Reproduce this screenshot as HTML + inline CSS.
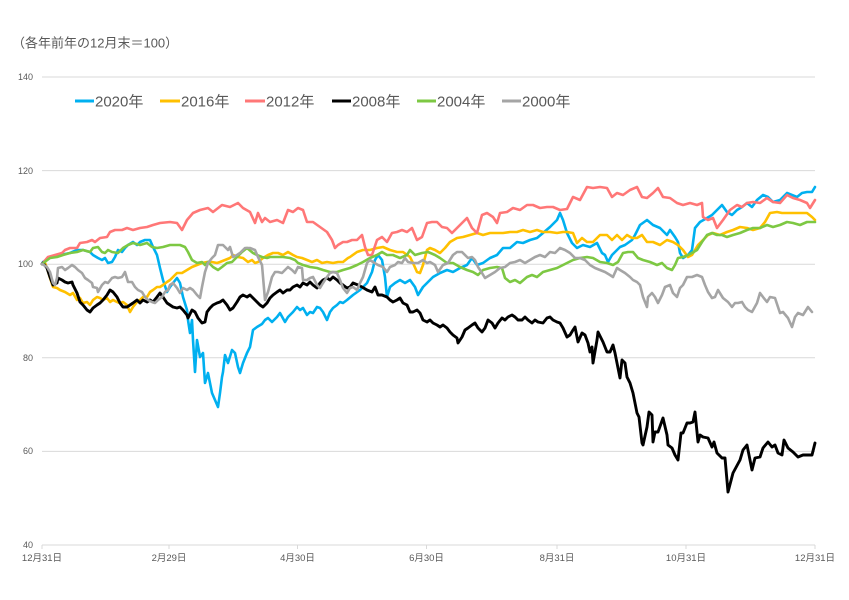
<!DOCTYPE html>
<html><head><meta charset="utf-8"><style>
html,body{margin:0;padding:0;background:#fff;}
svg{display:block;}
text{font-family:"Liberation Sans","Noto Sans CJK JP",sans-serif;fill:#595959;}
</style></head><body>
<svg width="849" height="600" viewBox="0 0 849 600" xmlns="http://www.w3.org/2000/svg">
<rect width="849" height="600" fill="#fff"/>
<text x="12" y="47.5" font-size="13">（各年前年の12月末＝100）</text>
<g stroke="#D9D9D9" stroke-width="1">
<line x1="42" y1="77" x2="815" y2="77"/>
<line x1="42" y1="170.6" x2="815" y2="170.6"/>
<line x1="42" y1="264.2" x2="815" y2="264.2"/>
<line x1="42" y1="357.8" x2="815" y2="357.8"/>
<line x1="42" y1="451.4" x2="815" y2="451.4"/>
<line x1="42" y1="545" x2="815" y2="545"/>
<line x1="42" y1="545" x2="42" y2="549"/>
<line x1="169" y1="545" x2="169" y2="549"/>
<line x1="297.5" y1="545" x2="297.5" y2="549"/>
<line x1="426.5" y1="545" x2="426.5" y2="549"/>
<line x1="557" y1="545" x2="557" y2="549"/>
<line x1="686" y1="545" x2="686" y2="549"/>
<line x1="815" y1="545" x2="815" y2="549"/>
</g>
<g font-size="9" text-anchor="end">
<text x="33" y="80">140</text>
<text x="33" y="174">120</text>
<text x="33" y="267">100</text>
<text x="33" y="361">80</text>
<text x="33" y="454">60</text>
<text x="33" y="548">40</text>
</g>
<g font-size="9.5" text-anchor="middle">
<text x="42" y="561">12月31日</text>
<text x="169" y="561">2月29日</text>
<text x="297.5" y="561">4月30日</text>
<text x="426.5" y="561">6月30日</text>
<text x="557" y="561">8月31日</text>
<text x="686" y="561">10月31日</text>
<text x="815" y="561">12月31日</text>
</g>
<g stroke-width="3" fill="none">
<line x1="75" y1="101" x2="94" y2="101" stroke="#00B0F0"/>
<line x1="160" y1="101" x2="180" y2="101" stroke="#FFC000"/>
<line x1="245" y1="101" x2="265" y2="101" stroke="#FF7777"/>
<line x1="332" y1="101" x2="351" y2="101" stroke="#000"/>
<line x1="417" y1="101" x2="436" y2="101" stroke="#7DC843"/>
<line x1="502" y1="101" x2="521" y2="101" stroke="#A5A5A5"/>
</g>
<g font-size="15">
<text x="95" y="106.5">2020年</text>
<text x="181" y="106.5">2016年</text>
<text x="266" y="106.5">2012年</text>
<text x="352" y="106.5">2008年</text>
<text x="437" y="106.5">2004年</text>
<text x="522" y="106.5">2000年</text>
</g>
<g fill="none" stroke-linejoin="round" stroke-linecap="round">
<polyline stroke="#00B0F0" stroke-width="2.6" points="42,264 43,262 50,257 60,255 70,253 77,250 83,250 90,252 93,255 98,258 102,260 105,258 108,263 112,262 115,257 118,250 122,252 125,248 128,245 133,242 137,245 140,242 145,240 150,240 153,247 157,255 160,268 163,280 167,292 170,287 173,283 177,278 180,283 183,297 187,310 188,320 190,333 192,320 193,340 195,372 197,340 200,357 203,353 205,383 208,373 212,393 215,400 218,407 220,393 222,377 223,372 225,355 228,363 232,350 235,353 238,367 240,373 243,363 247,353 250,347 253,330 257,327 262,324 265,320 268,318 272,322 277,317 280,313 285,322 288,317 293,312 297,307 300,310 303,308 307,315 310,312 313,313 317,307 320,308 323,312 327,320 330,312 333,308 337,305 340,302 343,303 347,300 353,295 360,290 367,283 372,272 375,260 378,255 382,260 385,277 387,297 390,287 395,283 400,280 405,283 410,280 415,287 418,295 423,287 428,282 433,277 440,273 447,270 453,272 460,268 467,265 472,258 477,265 483,263 490,258 497,255 503,248 510,248 517,242 523,243 530,240 537,238 543,233 550,227 557,220 560,213 563,220 567,233 572,243 577,248 583,245 590,247 597,243 602,253 605,255 608,262 612,255 615,252 620,247 625,245 632,240 635,235 640,225 647,220 653,225 660,228 667,235 670,230 675,237 678,242 680,253 683,258 688,255 692,250 695,228 700,222 707,218 712,215 717,210 722,205 727,212 732,215 737,210 742,207 747,203 752,207 757,200 763,195 768,197 773,202 780,200 787,193 792,195 797,197 802,193 807,192 812,192 815,187"/>
<polyline stroke="#FFC000" stroke-width="2.6" points="42,264 45,263 47,268 50,278 53,287 57,288 60,290 65,292 70,295 73,293 77,300 80,298 83,303 87,302 90,305 93,300 97,297 100,298 103,300 107,298 110,302 113,300 117,302 120,303 123,302 127,305 130,312 133,307 137,302 140,300 143,297 147,297 150,292 153,290 157,287 160,287 163,285 167,282 170,280 173,277 177,273 182,273 187,270 192,267 197,265 202,263 207,262 212,262 217,263 220,262 225,260 230,258 233,255 238,257 243,258 248,262 252,260 255,263 258,262 263,258 268,255 273,253 278,253 283,255 288,252 293,255 297,257 302,258 307,260 312,262 317,260 322,263 327,262 333,263 338,262 343,262 348,258 350,257 357,252 363,250 370,250 377,248 383,247 390,250 397,252 403,252 410,257 413,263 417,272 420,273 423,265 427,250 430,248 435,250 440,253 445,248 450,242 457,238 463,237 470,235 477,233 483,235 490,233 497,233 503,233 510,232 517,232 523,230 530,232 537,230 543,232 550,232 557,233 563,232 567,232 573,233 577,243 582,238 587,242 593,242 600,235 607,235 612,240 617,235 622,240 627,235 632,238 637,238 642,235 647,242 653,242 660,245 667,240 673,242 678,245 683,250 688,257 692,255 695,250 698,245 703,240 708,235 713,233 720,235 727,232 733,230 740,227 747,228 753,230 760,228 765,222 770,213 777,212 782,213 787,213 793,213 800,213 807,213 812,217 815,220"/>
<polyline stroke="#FF7777" stroke-width="2.6" points="42,264 48,257 55,255 62,253 65,250 70,248 77,248 80,243 87,242 92,240 95,242 100,238 107,237 110,232 115,230 122,230 127,228 133,230 140,228 147,227 153,225 160,223 170,222 177,223 182,230 187,220 193,213 200,210 208,208 213,212 222,205 230,207 238,203 243,208 250,212 255,223 258,213 262,222 265,218 270,222 277,220 283,223 288,210 293,212 298,208 303,210 307,222 313,222 320,227 327,232 332,240 335,248 338,245 343,242 347,242 352,240 357,240 362,235 365,247 368,255 372,255 377,240 382,237 387,242 392,233 397,232 402,230 407,232 412,228 417,240 422,237 427,223 432,222 437,222 442,227 447,228 452,233 457,228 462,223 467,218 472,228 477,233 482,215 487,213 493,217 497,223 500,213 507,212 513,208 520,210 527,205 533,205 540,208 547,207 553,207 560,210 567,209 573,197 580,200 587,187 593,188 600,187 607,188 612,197 617,193 623,195 630,190 637,187 642,197 647,198 653,193 658,188 663,197 670,198 677,203 683,205 690,203 697,205 702,203 703,217 708,220 713,218 717,228 723,220 730,210 737,205 742,207 747,203 753,202 760,203 767,198 773,202 780,203 787,195 793,198 800,200 807,203 810,208 815,200"/>
<polyline stroke="#000000" stroke-width="2.9" points="42,264 43,263 47,268 50,277 53,285 57,283 58,278 62,280 65,282 68,283 72,282 73,285 77,293 80,302 83,305 87,310 90,312 93,308 97,305 100,303 103,300 107,295 110,290 113,292 117,297 120,303 123,307 127,307 130,305 133,303 137,300 140,303 143,300 147,302 150,300 153,302 157,297 160,293 163,297 167,303 170,305 173,307 177,308 180,307 183,310 187,315 188,318 192,310 195,312 198,318 202,323 205,322 207,312 210,308 213,305 217,303 220,302 223,300 227,305 230,310 233,308 237,302 240,297 243,295 247,297 250,295 253,298 257,302 260,305 263,307 267,303 270,298 273,295 277,292 280,290 283,293 287,290 290,290 293,287 297,285 300,287 303,283 307,285 310,282 313,285 317,288 320,283 323,280 327,278 330,280 333,277 337,280 340,283 343,285 347,288 350,287 353,283 358,285 362,287 367,290 372,292 375,287 378,295 382,295 387,297 390,300 393,302 397,300 400,298 403,303 407,305 410,312 413,312 417,310 420,313 423,320 427,322 430,320 433,323 437,325 440,327 443,325 447,328 450,332 453,335 457,338 458,343 462,337 465,330 468,328 472,325 475,323 478,328 482,332 485,328 488,320 492,323 495,328 498,323 502,318 505,320 508,317 512,315 515,317 518,320 522,320 525,317 528,320 532,323 535,320 538,322 543,323 547,318 550,317 553,320 557,322 560,323 563,328 567,337 570,335 573,330 575,327 578,342 582,333 585,335 588,343 590,352 592,347 593,363 597,340 598,332 603,342 607,352 610,352 613,345 615,353 618,368 620,378 622,360 625,363 627,377 630,383 633,393 637,413 639,417 642,443 643,445 647,427 649,412 652,415 653,442 655,432 658,432 663,418 667,435 668,445 672,448 675,455 678,460 681,433 683,433 687,423 690,423 693,422 695,412 698,442 700,435 703,437 708,438 712,447 714,442 717,453 722,458 725,458 728,492 733,473 740,460 743,450 747,445 752,470 755,458 760,457 763,448 768,442 772,447 775,445 778,453 782,455 784,440 788,448 793,452 798,457 803,455 812,455 815,443"/>
<polyline stroke="#7DC843" stroke-width="2.6" points="42,264 50,258 57,257 63,255 70,253 77,252 83,250 90,252 93,248 98,247 102,252 105,253 108,250 112,252 118,253 123,248 128,245 133,243 140,245 147,243 152,247 157,248 163,247 170,245 180,245 185,247 188,252 192,260 197,263 202,262 205,265 208,262 213,267 218,270 222,267 227,263 232,262 237,257 242,252 247,248 253,253 257,255 262,257 267,258 270,257 277,257 283,257 290,258 295,260 298,263 303,265 310,267 317,268 323,270 330,272 337,272 343,270 350,268 357,265 363,262 370,258 377,255 382,252 387,255 393,255 400,258 407,255 410,250 415,255 422,253 428,252 435,255 440,258 447,263 453,263 460,267 467,270 473,272 478,275 483,270 490,268 497,267 502,268 505,278 510,282 515,280 520,283 527,277 532,275 537,277 543,272 550,270 557,268 563,265 567,263 573,260 580,258 587,257 593,258 600,262 607,263 613,265 618,262 623,253 628,252 633,252 638,258 643,260 650,262 657,265 662,263 667,268 672,270 675,265 678,258 683,257 688,255 692,253 697,250 702,242 707,235 712,233 717,235 722,235 727,237 733,235 740,233 747,230 753,228 760,228 767,225 773,227 780,225 787,222 793,223 800,225 807,222 815,222"/>
<polyline stroke="#A5A5A5" stroke-width="2.6" points="42,264 47,267 50,272 53,283 55,285 57,278 58,268 62,267 65,270 68,268 72,265 75,267 78,270 82,273 85,278 88,280 92,283 93,287 97,288 98,292 102,285 105,282 108,283 112,278 115,277 118,278 122,277 125,272 128,282 132,282 135,287 138,290 142,292 145,297 148,300 152,302 155,303 158,300 162,297 165,292 168,290 170,285 173,283 177,288 180,293 183,288 187,290 190,288 193,290 197,295 200,298 202,287 205,272 208,263 212,258 215,255 218,245 223,245 228,250 230,247 233,257 237,255 240,253 245,248 250,248 255,250 258,257 262,265 265,300 268,292 272,277 275,272 278,272 282,273 285,270 288,267 292,270 295,273 298,267 302,268 303,280 307,280 310,278 313,277 317,285 320,288 323,283 327,277 330,273 333,272 337,273 340,280 343,288 347,293 350,288 353,287 357,290 360,283 363,277 367,263 370,260 373,262 378,265 383,267 387,272 390,267 395,265 398,262 402,263 405,258 408,262 413,263 418,263 423,260 427,263 430,262 435,265 438,272 443,265 448,263 453,255 457,252 462,252 465,255 468,258 472,257 475,260 478,267 482,273 485,278 490,275 495,272 500,268 505,267 510,263 515,262 520,260 525,263 530,260 535,257 540,255 545,257 550,252 555,253 560,248 565,250 570,253 575,258 580,258 585,260 590,265 595,268 600,270 605,272 610,275 613,277 617,268 620,270 625,273 630,277 633,280 637,282 640,285 643,297 647,307 648,297 652,293 655,297 658,303 662,295 665,287 670,285 673,293 677,297 680,288 683,285 687,277 692,277 697,275 702,277 705,285 708,292 712,298 715,297 718,290 723,298 728,302 732,307 735,303 738,303 742,302 745,307 748,310 752,312 757,303 760,293 763,297 767,302 770,297 775,298 780,313 783,312 788,318 792,327 795,317 798,313 803,315 808,307 812,312"/>
</g>
</svg>
</body></html>
